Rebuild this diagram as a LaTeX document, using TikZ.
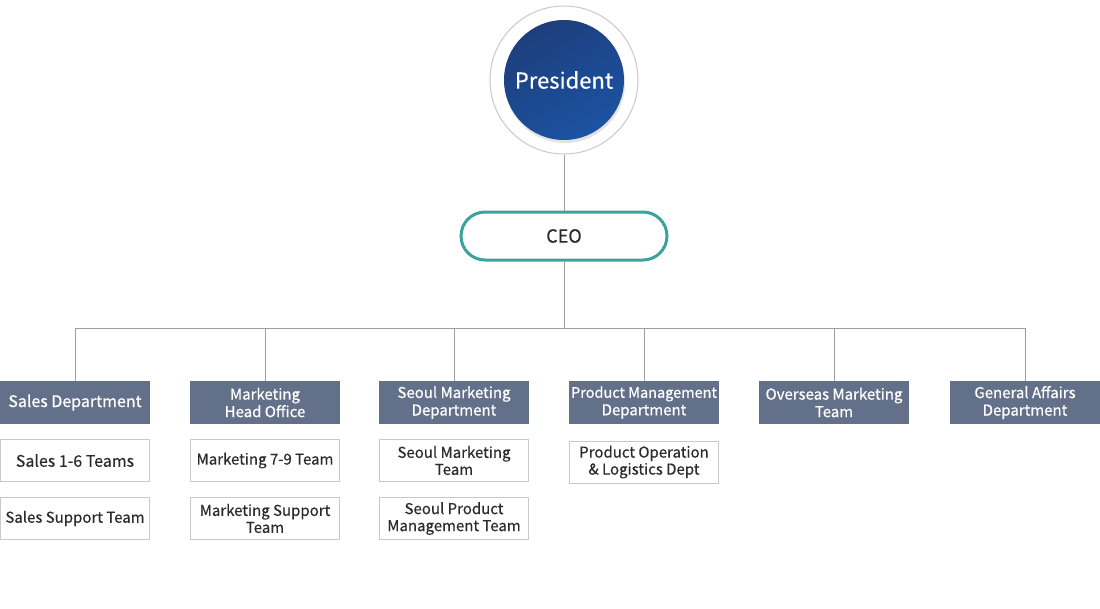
\documentclass[tikz,border=0pt]{standalone}
\usepackage{fontspec}
\setmainfont{Noto Sans CJK KR}
\newfontfamily\deptfont[FakeBold=0.6]{Noto Sans CJK KR}
\newfontfamily\teamfont[FakeBold=0.3]{Noto Sans CJK KR}
\usetikzlibrary{positioning}
\usetikzlibrary{shadows}
\definecolor{deptgray}{HTML}{637089}
\definecolor{ceoteal}{HTML}{3AA39B}
\definecolor{linegray}{HTML}{9E9E9E}
\definecolor{boxgray}{HTML}{C9C9C9}
\definecolor{presdark}{HTML}{1D3E7C}
\definecolor{preslight}{HTML}{1C53A2}
\definecolor{textdark}{HTML}{2B2B2B}
\tikzset{
  dept/.style={rectangle, fill=deptgray, text=white, minimum width=150pt, minimum height=43pt,
    inner sep=0pt, align=center, font=\deptfont\fontsize{15}{17.5}\selectfont},
  team/.style={rectangle, draw=boxgray, line width=1pt, fill=white, text=textdark, minimum width=149pt,
    minimum height=42pt, inner sep=0pt, align=center, font=\teamfont\fontsize{15}{17}\selectfont},
  link/.style={draw=linegray, line width=1pt},
}
\begin{document}
\begin{tikzpicture}[x=1pt, y=-1pt]

\useasboundingbox (0,0) rectangle (1100,608);

\node[circle, draw=boxgray, line width=1pt, fill=white, minimum size=148pt, inner sep=0pt] (presring) at (564, 80) {};
\node[circle, minimum size=120pt, inner sep=0pt, shading=axis, top color=presdark, bottom color=preslight,
  shading angle=30, drop shadow={shadow xshift=1pt, shadow yshift=-3pt, opacity=0.22},
  text=white, font=\teamfont\fontsize{22}{26}\selectfont] (pres) at (564, 80) {President};

\node[rectangle, rounded corners=24pt, draw=ceoteal, line width=3pt, fill=white, minimum width=206pt,
  minimum height=48pt, text=textdark, font=\teamfont\fontsize{18}{22}\selectfont] (ceo) at (564, 236) {CEO};

\coordinate (bus) at (564, 328);

\node[dept] (dsales) at (75, 402.5) {\fontsize{16}{18}\selectfont Sales Department};
\node[dept] (dmkt) at (265, 402.5) {Marketing\\Head Office};
\node[dept] (dseoul) at (454, 402.5) {Seoul Marketing\\Department};
\node[dept] (dprod) at (644, 402.5) {\fontsize{14.5}{17.5}\selectfont Product Management\\Department};
\node[dept] (dover) at (834, 402.5) {Overseas Marketing\\Team};
\node[dept] (dgen) at (1025, 402.5) {General Affairs\\Department};

\node[team] (tsales1) at (75, 460.5) {\fontsize{16}{18}\selectfont Sales 1-6 Teams};
\node[team] (tsales2) at (75, 518.5) {Sales Support Team};
\node[team] (tmkt1) at (265, 460.5) {Marketing 7-9 Team};
\node[team] (tmkt2) at (265, 518.5) {Marketing Support\\Team};
\node[team] (tseoul1) at (454, 460.5) {Seoul Marketing\\Team};
\node[team] (tseoul2) at (454, 518.5) {Seoul Product\\Management Team};
\node[team] (tprod1) at (644, 462) {Product Operation\\\& Logistics Dept};

\draw[link] (presring.south) to (ceo.north);
\draw[link] (ceo.south) to (bus);
\draw[link] (dsales.north) |- (bus);
\draw[link] (dmkt.north) |- (bus);
\draw[link] (dseoul.north) |- (bus);
\draw[link] (dprod.north) |- (bus);
\draw[link] (dover.north) |- (bus);
\draw[link] (dgen.north) |- (bus);

\end{tikzpicture}
\end{document}
